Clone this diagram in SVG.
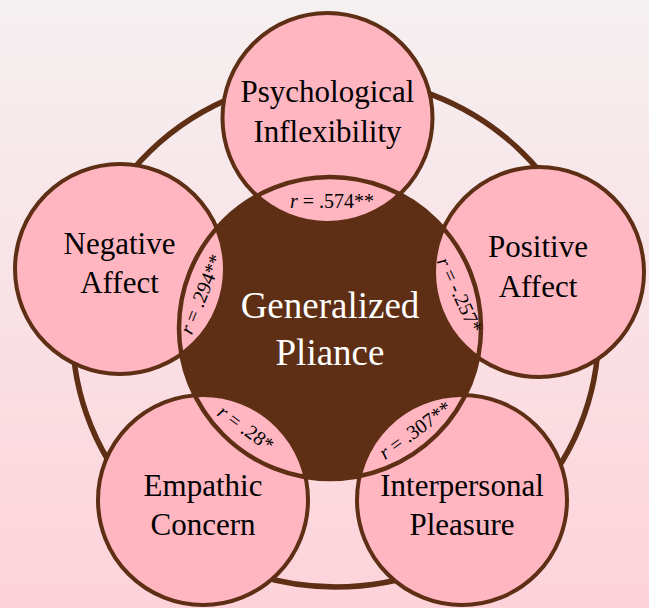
<svg xmlns="http://www.w3.org/2000/svg" width="649" height="608" viewBox="0 0 649 608">
  <defs>
    <linearGradient id="bg" x1="0" y1="0" x2="0" y2="1">
      <stop offset="0" stop-color="#f5f0f1"/>
      <stop offset="1" stop-color="#fdd3da"/>
    </linearGradient>
    <style>
      .node { fill: #ffb6c1; stroke: #5e2f14; stroke-width: 4; }
      .lbl { font-family: 'Liberation Serif', 'Times New Roman', serif; font-size: 31px; fill: #000; text-anchor: middle; }
      .clbl { font-family: 'Liberation Serif', 'Times New Roman', serif; font-size: 37px; fill: #fff; text-anchor: middle; }
      .r { font-family: 'Liberation Serif', 'Times New Roman', serif; font-size: 20px; fill: #000; text-anchor: middle; }
      .ring { fill: none; stroke: #5e2f14; stroke-width: 5.5; }
    </style>
  </defs>
  <rect x="0" y="0" width="649" height="608" fill="url(#bg)"/>

  <g id="connectors">
    <ellipse class="ring" cx="335.5" cy="332" rx="263" ry="255"/>
  </g>

  <g id="center-fill">
    <circle cx="330" cy="328" r="151" fill="#5e2f14"/>
  </g>

  <g id="psychological-inflexibility">
    <circle class="node" cx="327.5" cy="118" r="105"/>
    <text class="lbl" x="327.5" y="102">Psychological</text>
    <text class="lbl" x="327.5" y="142">Inflexibility</text>
  </g>
  <g id="negative-affect">
    <circle class="node" cx="120" cy="269" r="105"/>
    <text class="lbl" x="119.5" y="254">Negative</text>
    <text class="lbl" x="119.5" y="293">Affect</text>
  </g>
  <g id="positive-affect">
    <circle class="node" cx="539" cy="272" r="105"/>
    <text class="lbl" x="538" y="257">Positive</text>
    <text class="lbl" x="538" y="297">Affect</text>
  </g>
  <g id="empathic-concern">
    <circle class="node" cx="203" cy="500" r="105"/>
    <text class="lbl" x="203" y="496">Empathic</text>
    <text class="lbl" x="203" y="535">Concern</text>
  </g>
  <g id="interpersonal-pleasure">
    <circle class="node" cx="462" cy="500" r="105"/>
    <text class="lbl" x="462" y="496">Interpersonal</text>
    <text class="lbl" x="462" y="535">Pleasure</text>
  </g>

  <g id="generalized-pliance">
    <circle cx="330" cy="328" r="151" fill="none" stroke="#5e2f14" stroke-width="4.5"/>
    <text class="clbl" x="330" y="318">Generalized</text>
    <text class="clbl" x="330" y="365">Pliance</text>
  </g>

  <g id="correlations">
    <text class="r" x="332" y="208"><tspan font-style="italic">r</tspan> = .574**</text>
    <text class="r" transform="translate(201 294) rotate(-68)" x="0" y="7"><tspan font-style="italic">r</tspan> = .294**</text>
    <text class="r" transform="translate(460 295) rotate(65)" x="0" y="7"><tspan font-style="italic">r</tspan> = -.257*</text>
    <text class="r" transform="translate(246 428) rotate(36)" x="0" y="7"><tspan font-style="italic">r</tspan> = .28*</text>
    <text class="r" transform="translate(415 430) rotate(-36)" x="0" y="7"><tspan font-style="italic">r</tspan> = .307**</text>
  </g>
</svg>
